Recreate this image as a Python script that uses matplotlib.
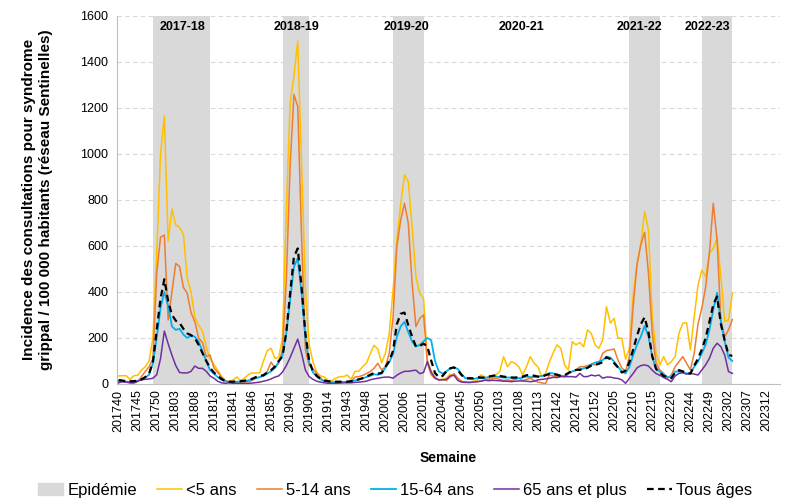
import matplotlib
matplotlib.use('Agg')
import matplotlib.pyplot as plt
from matplotlib.lines import Line2D
from matplotlib.patches import Patch
import numpy as np

# season definitions: (year, first week, last week of the following year)
seasons = [(2017, 16), (2018, 15), (2019, 15), (2020, 15), (2021, 20), (2022, 15)]
season_names = ['2017-18', '2018-19', '2019-20', '2020-21', '2021-22', '2022-23']

# epidemic periods (first week, last week)
epidemics = [('201749', '201812'), ('201902', '201909'), ('202003', '202011'),
             ('202209', '202217'), ('202247', '202303')]

# incidence per 100 000, week by week (one line per season)
lt5 = [35, 36, 36, 20, 36, 38, 60, 75, 100, 200, 560, 1000, 1165, 620, 760, 690, 680, 650, 460, 400, 290, 255, 230, 160, 110, 85, 60, 32, 15,
       10, 17, 30, 15, 25, 40, 48, 48, 48, 100, 145, 155, 112, 115, 200, 750, 1220, 1340, 1490, 950, 420, 170, 95, 50, 35, 30, 15, 15,
       25, 32, 32, 39, 20, 55, 55, 75, 90, 130, 168, 152, 92, 133, 220, 408, 626, 780, 908, 879, 683, 466, 394, 372, 104, 54, 32, 17,
       20, 25, 43, 35, 20, 10, 5, 8, 12, 15, 40, 32, 25, 30, 40, 55, 119, 75, 97, 90, 75, 39, 75, 119, 90, 75, 32, 46,
       95, 135, 170, 155, 83, 61, 184, 170, 180, 162, 235, 220, 170, 155, 191, 336, 264, 285, 199, 199, 108, 155, 387, 520, 610, 749, 669, 292, 133, 83, 119, 83, 97,
       119, 220, 264, 266, 148, 292, 430, 495, 466, 568, 589, 633, 466, 271, 278, 394]

a5_14 = [14, 10, 10, 5, 3, 10, 32, 54, 75, 110, 480, 638, 647, 278, 400, 524, 510, 420, 394, 310, 270, 200, 180, 119, 126, 70, 50, 30, 15,
         8, 5, 5, 5, 8, 10, 15, 25, 30, 40, 55, 95, 70, 90, 150, 450, 950, 1258, 1205, 640, 150, 80, 65, 45, 25, 12, 8, 5,
         5, 6, 8, 10, 12, 30, 32, 37, 45, 54, 68, 90, 61, 75, 133, 292, 597, 712, 785, 698, 437, 249, 285, 300, 90, 40, 25, 18,
         20, 15, 30, 45, 25, 12, 8, 8, 8, 10, 12, 15, 20, 22, 25, 20, 15, 18, 15, 20, 25, 15, 20, 25, 15, 8, 5, 2,
         39, 35, 32, 35, 35, 45, 54, 61, 75, 75, 80, 85, 83, 90, 133, 145, 148, 152, 104, 70, 55, 120, 340, 520, 605, 659, 481, 220, 90, 61, 46, 25, 39,
         75, 97, 119, 90, 61, 133, 260, 330, 420, 570, 785, 626, 278, 205, 235, 280]

a15_64 = [12, 12, 10, 10, 10, 14, 20, 28, 40, 90, 200, 330, 400, 340, 250, 235, 240, 215, 200, 210, 205, 185, 140, 100, 60, 45, 30, 18, 12,
          8, 8, 10, 10, 12, 15, 20, 25, 30, 35, 45, 55, 70, 95, 125, 220, 365, 510, 546, 394, 200, 95, 50, 32, 20, 12, 10, 8,
          8, 8, 9, 10, 12, 15, 20, 25, 30, 35, 42, 40, 45, 70, 95, 130, 205, 250, 270, 225, 185, 162, 170, 185, 200, 190, 100, 55,
          45, 55, 68, 72, 65, 42, 25, 22, 22, 25, 25, 25, 30, 32, 32, 30, 28, 28, 28, 25, 25, 28, 32, 30, 30, 32, 35, 38,
          48, 46, 42, 36, 32, 45, 55, 60, 62, 68, 72, 85, 93, 97, 104, 119, 115, 97, 75, 55, 46, 75, 126, 170, 206, 252, 206, 119, 64, 54, 40, 30, 29,
          54, 54, 49, 46, 46, 75, 97, 133, 170, 235, 322, 397, 270, 185, 115, 100]

a65 = [5, 10, 8, 5, 6, 12, 18, 20, 22, 25, 40, 110, 230, 175, 125, 80, 50, 48, 48, 55, 78, 68, 68, 55, 35, 25, 12, 5, 3,
       5, 3, 2, 2, 2, 3, 4, 6, 8, 12, 16, 22, 30, 35, 52, 80, 115, 155, 195, 133, 61, 32, 20, 12, 8, 5, 3, 2,
       3, 4, 5, 5, 5, 7, 8, 10, 12, 18, 22, 25, 28, 30, 30, 25, 38, 48, 55, 55, 58, 60, 45, 50, 97, 52, 25, 18,
       18, 20, 35, 38, 15, 8, 8, 6, 8, 10, 12, 17, 14, 16, 15, 14, 12, 12, 10, 12, 13, 13, 12, 10, 12, 18, 20, 22,
       25, 29, 28, 32, 32, 32, 32, 30, 46, 32, 32, 39, 35, 39, 25, 30, 30, 26, 24, 18, 3, 25, 46, 70, 80, 83, 78, 60, 45, 38, 28, 20, 10,
       35, 46, 49, 43, 46, 43, 39, 61, 83, 112, 155, 177, 162, 126, 54, 46]

tous = [17, 15, 12, 12, 12, 15, 20, 30, 46, 95, 235, 370, 455, 360, 300, 275, 265, 240, 220, 212, 200, 170, 135, 100, 70, 50, 35, 22, 12,
        10, 10, 12, 12, 14, 18, 22, 30, 35, 38, 50, 60, 75, 100, 120, 225, 394, 553, 589, 420, 220, 100, 55, 35, 22, 15, 12, 10,
        10, 10, 10, 10, 12, 15, 20, 25, 32, 40, 48, 45, 48, 75, 100, 145, 260, 305, 310, 255, 205, 163, 165, 175, 163, 102, 48, 30,
        35, 55, 68, 72, 60, 38, 25, 25, 25, 30, 28, 28, 32, 35, 38, 35, 32, 30, 28, 28, 30, 32, 38, 39, 36, 32, 32, 38,
        43, 43, 40, 35, 38, 48, 58, 61, 62, 64, 70, 80, 83, 88, 95, 116, 108, 90, 72, 50, 58, 95, 150, 210, 260, 290, 225, 120, 66, 49, 35, 30, 25,
        50, 60, 55, 48, 45, 80, 110, 150, 200, 270, 345, 380, 260, 190, 126, 122]

# week labels: weeks 40-52 then 1..last of each season
weeks = []
for year, last in seasons:
    weeks += ['%d%02d' % (year, w) for w in range(40, 53)]
    weeks += ['%d%02d' % (year + 1, w) for w in range(1, last + 1)]

x_all = np.arange(len(weeks))
x = np.arange(len(lt5))

plt.rcParams['font.family'] = ['Liberation Sans', 'DejaVu Sans']
fig = plt.figure(figsize=(7.9, 5.03), dpi=100)
ax = fig.add_axes([0.1477, 0.2366, 0.8396, 0.7322])

for a, b in epidemics:
    ax.axvspan(weeks.index(a), weeks.index(b), color='#D9D9D9', lw=0, zorder=0)

ax.plot(x, lt5, color='#FFC000', lw=1.1, zorder=3)
ax.plot(x, a5_14, color='#ED7D31', lw=1.1, zorder=3)
ax.plot(x, a15_64, color='#00B0F0', lw=1.3, zorder=3)
ax.plot(x, a65, color='#7030A0', lw=1.1, zorder=3)
ax.plot(x, tous, color='black', lw=1.6, ls=(0, (3, 2)), zorder=4)

# season titles
label_x = [16.7, 46.6, 75.6, 105.6, 136.6, 154.6]
for lx, name in zip(label_x, season_names):
    ax.text(lx, 1550, name, ha='center', va='center', fontsize=9, fontweight='bold')

ax.set_xlim(-0.5, len(weeks) - 0.5)
ax.set_ylim(0, 1600)
ax.set_yticks(np.arange(0, 1601, 200))
ax.set_xticks(x_all[::5])
ax.set_xticklabels(weeks[::5], rotation=90, fontsize=9)
ax.tick_params(axis='y', labelsize=9, length=0, pad=6)
ax.tick_params(axis='x', length=0, pad=4)

ax.grid(axis='y', color='#D9D9D9', ls=(0, (4, 3)), lw=0.8)
ax.set_axisbelow(True)
for s in ['top', 'right']:
    ax.spines[s].set_visible(False)
ax.spines['left'].set_color('#BFBFBF')
ax.spines['bottom'].set_color('#BFBFBF')

ax.set_ylabel('Incidence des consultations pour syndrome\ngrippal / 100 000 habitants (réseau Sentinelles)',
              fontsize=11, fontweight='bold', labelpad=20)
ax.set_xlabel('Semaine', fontsize=10, fontweight='bold', labelpad=14)

handles = [Patch(color='#D9D9D9'),
           Line2D([], [], color='#FFC000', lw=1.1),
           Line2D([], [], color='#ED7D31', lw=1.1),
           Line2D([], [], color='#00B0F0', lw=1.3),
           Line2D([], [], color='#7030A0', lw=1.1),
           Line2D([], [], color='black', lw=1.6, ls=(0, (3, 2)))]
labels = ['Epidémie', '<5 ans', '5-14 ans', '15-64 ans', '65 ans et plus', 'Tous âges']
fig.legend(handles, labels, loc='lower center', bbox_to_anchor=(0.5, -0.02), ncol=6,
           frameon=False, handlelength=1.5, columnspacing=1.2,
           handletextpad=0.25, prop={'size': 12})

fig.savefig('out.png', dpi=100)
